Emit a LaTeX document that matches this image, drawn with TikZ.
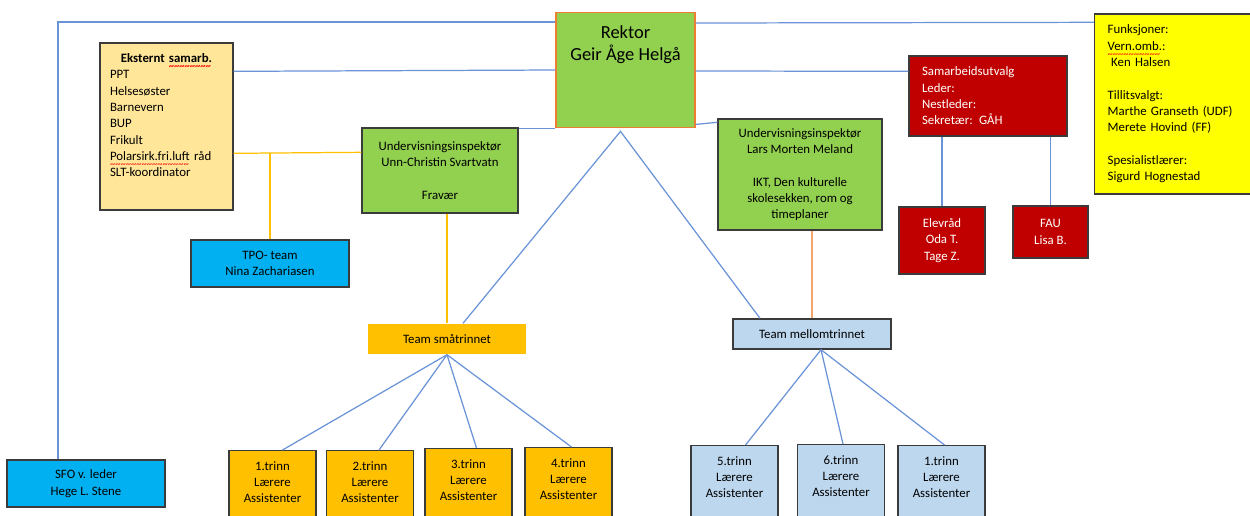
\documentclass[tikz,border=0pt]{standalone}
\usepackage{fontspec}
\setmainfont{Carlito}
\usetikzlibrary{positioning,calc}

\definecolor{uigreen}{HTML}{92D050}
\definecolor{rektorline}{HTML}{ED7D31}
\definecolor{eksyellow}{HTML}{FFE699}
\definecolor{sfoblue}{HTML}{00B0F0}
\definecolor{surred}{HTML}{C00000}
\definecolor{funkyellow}{HTML}{FFFF00}
\definecolor{teamorange}{HTML}{FFC000}
\definecolor{mellomblue}{HTML}{BDD7EE}
\definecolor{boxline}{HTML}{3B3B3B}
\definecolor{lineblue}{HTML}{6A93D8}
\definecolor{lineyellow}{HTML}{FFC000}
\definecolor{lineorange}{HTML}{F4A46E}

\newcommand{\orgfont}{\fontsize{7.3}{9.3}\selectfont}
\newcommand{\rektorfont}{\fontsize{10.5}{12.8}\selectfont}
\newcommand{\spellmark}[1]{\leavevmode\setbox0\hbox{#1}\rlap{\raisebox{-4.3pt}[0pt][0pt]{\color{red}\fontsize{6}{6}\selectfont\leaders\hbox{\textasciitilde}\hskip\wd0}}\box0\relax}
\newcommand{\trinn}[1]{#1.trinn\\Lærere\\Assistenter\rule[-20pt]{0pt}{0pt}}

\begin{document}
\begin{tikzpicture}[x=0.02cm, y=-0.02cm,
    box/.style={draw=boxline, line width=0.8pt, inner sep=0pt, align=center, font=\orgfont},
    trinnbox/.style={box, anchor=north, minimum width=1.74cm, inner ysep=6pt},
    link/.style={draw=lineblue, line width=0.7pt},
    ylink/.style={draw=lineyellow, line width=0.7pt},
    olink/.style={draw=lineorange, line width=0.7pt}]
  \useasboundingbox[fill=white] (0,0) rectangle (1250,515);

  % ledelse
  \node [box, fill=uigreen, draw=rektorline, font=\rektorfont, anchor=north, inner ysep=7pt,
         minimum width=2.78cm, minimum height=2.3cm] (rektor) at (625.5,12)
        {Rektor\\Geir Åge Helgå\rule[-31pt]{0pt}{0pt}};
  \node [box, fill=eksyellow, align=left, text width=2.26cm, inner xsep=0.2cm,
         minimum width=2.66cm, minimum height=3.34cm] (eks) at (166.5,126.5)
        {\makebox[2.26cm]{\textbf{Eksternt \spellmark{samarb.}}}\\PPT\\Helsesøster\\Barnevern\\BUP\\Frikult\\
         \spellmark{Polarsirk.fri.luft} råd\\SLT-koordinator\rule[-13pt]{0pt}{0pt}};
  \node [box, fill=uigreen, minimum width=3.12cm, minimum height=1.7cm] (ui1) at (440,170.5)
        {Undervisningsinspektør\\Unn-Christin Svartvatn\\[9.3pt]Fravær};
  \node [box, fill=uigreen, minimum width=3.28cm, minimum height=2.22cm] (ui2) at (800,174.5)
        {Undervisningsinspektør\\Lars Morten Meland\\[9.3pt]IKT, Den kulturelle\\skolesekken, rom og\\timeplaner};
  \node [box, fill=sfoblue, minimum width=3.16cm, minimum height=0.94cm] (tpo) at (270,263.5)
        {TPO- team\\Nina Zachariasen};
  \node [box, fill=sfoblue, minimum width=3.16cm, minimum height=0.94cm] (sfo) at (86,483.5)
        {SFO v. leder\\Hege L. Stene};

  % utvalg og funksjoner
  \node [box, fill=surred, text=white, align=left, text width=2.64cm, inner xsep=0.26cm,
         minimum height=1.6cm] (samarb) at (988,96)
        {Samarbeidsutvalg\\Leder:\\Nestleder:\\Sekretær: GÅH};
  \node [box, fill=surred, text=white, minimum width=1.72cm, minimum height=1.34cm] (elev) at (942,240.5)
        {Elevråd\\Oda T.\\Tage Z.};
  \node [box, fill=surred, text=white, minimum width=1.5cm, minimum height=1.04cm] (fau) at (1050.5,232)
        {FAU\\Lisa B.};
  \node [box, fill=funkyellow, anchor=west, align=left, text width=2.9cm, inner xsep=0.26cm,
         minimum height=3.6cm] (funk) at (1094,104)
        {Funksjoner:\\\spellmark{Vern.omb.}:\\\hspace*{2pt}Ken Halsen\\[9.3pt]Tillitsvalgt:\\Marthe Granseth (UDF)\\
         Merete Hovind (FF)\\[9.3pt]Spesialistlærer:\\Sigurd Hognestad};

  % team
  \node [box, fill=teamorange, draw=none, minimum width=3.16cm, minimum height=0.6cm] (smaa) at (447,339)
        {Team småtrinnet};
  \node [box, fill=mellomblue, minimum width=3.16cm, minimum height=0.6cm] (mellom) at (812,334)
        {Team mellomtrinnet};

  \node [trinnbox, fill=teamorange] (t1) at (272.5,450) {\trinn{1}};
  \node [trinnbox, fill=teamorange] (t2) at (370,450) {\trinn{2}};
  \node [trinnbox, fill=teamorange] (t3) at (468.5,448) {\trinn{3}};
  \node [trinnbox, fill=teamorange] (t4) at (568.5,447) {\trinn{4}};
  \node [trinnbox, fill=mellomblue] (m5) at (734.5,445) {\trinn{5}};
  \node [trinnbox, fill=mellomblue] (m6) at (841,444) {\trinn{6}};
  \node [trinnbox, fill=mellomblue] (m1) at (941.5,445) {\trinn{1}};

  % linjer
  \coordinate (sfotop) at ($(sfo.north)+(-28,0)$);
  \draw[link] (sfotop) |- ($(rektor.north west)+(0,10)$);
  \draw[link] ($(eks.north east)+(0,29)$) -- ($(rektor.north west)+(0,58)$);
  \draw[link] (rektor.south west) -- (rektor.south west -| ui1.east);
  \draw[link] ($(rektor.north east)+(0,11)$) -- ($(funk.north west)+(0,9)$);
  \draw[link] ($(rektor.north east)+(0,59)$) -- ($(samarb.north west)+(0,16)$);
  \draw[link] ($(rektor.south east)+(0,-4)$) -- ($(ui2.north west)+(0,4)$);
  \draw[link] (elev.north) -- (elev.north |- samarb.south);
  \draw[link] (fau.north) -- (fau.north |- samarb.south);

  \coordinate (yjoin) at ($(eks.north east)+(0,111)$);
  \draw[ylink] (yjoin) -- ($(ui1.north west)+(0,25)$);
  \draw[ylink] (tpo.north) -- (tpo.north |- yjoin);
  \draw[ylink] (ui1.south -| smaa.north) -- (smaa.north);
  \draw[olink] (ui2.south -| mellom.north) -- (mellom.north);

  \coordinate (apex) at ($(rektor.south)+(-5,3)$);
  \draw[link] ($(smaa.north)+(16,0)$) -- (apex) -- ($(mellom.north)+(-52,0)$);

  \coordinate (sfan) at (smaa.south);
  \path[link] (sfan) edge ($(t1.north)+(10,0)$);
  \path[link] (sfan) edge ($(t2.north)+(9,0)$);
  \path[link] (sfan) edge ($(t3.north)+(8,0)$);
  \path[link] (sfan) edge ($(t4.north)+(3,0)$);

  \coordinate (mfan) at ($(mellom.south)+(9,0)$);
  \path[link] (mfan) edge ($(m5.north)+(11,0)$);
  \path[link] (mfan) edge ($(m6.north)+(2,0)$);
  \path[link] (mfan) edge ($(m1.north)+(3,0)$);
\end{tikzpicture}
\end{document}
